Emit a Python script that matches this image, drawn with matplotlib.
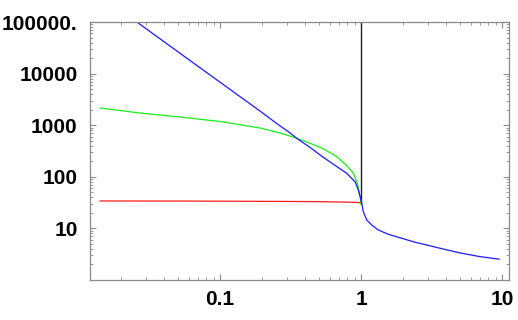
import matplotlib.pyplot as plt
from matplotlib.ticker import LogLocator, NullFormatter

# values (log-log)
green_x = [0.0141, 0.0271, 0.052, 0.10, 0.192, 0.267, 0.350, 0.435, 0.540, 0.673,
           0.792, 0.882, 0.947, 0.972, 0.995, 1.0]
green_y = [2150, 1720, 1440, 1180, 883, 706, 560, 446, 350, 245,
           165, 117, 72, 48, 35, 29]

red_x = [0.0141, 0.05, 0.1, 0.3, 0.5, 0.8, 0.95, 1.0]
red_y = [34, 33.9, 33.7, 33.3, 33, 32.3, 31.8, 31]

blue_x = [0.0257, 0.0721, 0.192, 0.267, 0.313, 0.350, 0.435, 0.540, 0.673, 0.792, 0.907,
          0.952, 0.984, 1.0, 1.011, 1.038, 1.097, 1.191, 1.327, 1.562, 1.944, 2.415, 2.92,
          3.73, 5.03, 6.8, 9.52]
blue_y = [100000, 13000, 1885, 964, 713, 557, 370, 239, 158, 117, 80,
          58, 42.5, 34, 31, 21.1, 14.6, 11.6, 9.32, 7.69, 6.43, 5.4, 4.77,
          4.05, 3.35, 2.87, 2.53]

pole_x = [1.0, 1.0]
pole_y = [31, 1e6]

x_ticks = [0.1, 1, 10]
x_labels = ['0.1', '1', '10']
y_ticks = [10, 100, 1000, 10000, 100000]
y_labels = ['10', '100', '1000', '10000', '100000.']

plt.rcParams['font.family'] = ['Liberation Sans', 'DejaVu Sans']

fig = plt.figure(figsize=(5.18, 3.2), dpi=100)
ax = fig.add_axes([90 / 518, 1 - 280 / 320, 419 / 518, 258 / 320])

ax.plot(pole_x, pole_y, color='#222222', lw=1.0)
ax.plot(red_x, red_y, color='#ff1a1a', lw=0.9)
ax.plot(green_x, green_y, color='#1aee1a', lw=0.9)
ax.plot(blue_x, blue_y, color='#1a1aff', lw=0.9)

ax.set_xscale('log')
ax.set_yscale('log')
ax.set_xlim(0.01197, 11.2)
ax.set_ylim(1, 100000)

ax.set_xticks(x_ticks)
ax.set_xticklabels(x_labels)
ax.set_yticks(y_ticks)
ax.set_yticklabels(y_labels)
ax.xaxis.set_minor_locator(LogLocator(base=10, subs=range(2, 10)))
ax.yaxis.set_minor_locator(LogLocator(base=10, subs=range(2, 10)))
ax.xaxis.set_minor_formatter(NullFormatter())
ax.yaxis.set_minor_formatter(NullFormatter())

for lab in ax.get_xticklabels() + ax.get_yticklabels():
    lab.set_fontweight('bold')
    lab.set_fontsize(15)

ax.tick_params(which='both', direction='in', top=True, right=True, color='#888888')
ax.tick_params(which='major', length=4, width=0.8, pad=7)
ax.tick_params(which='minor', length=2, width=0.6)
ax.tick_params(axis='y', which='major', pad=9)
for s in ax.spines.values():
    s.set_color('#888888')
    s.set_linewidth(0.9)

plt.savefig('out.png', dpi=100)
